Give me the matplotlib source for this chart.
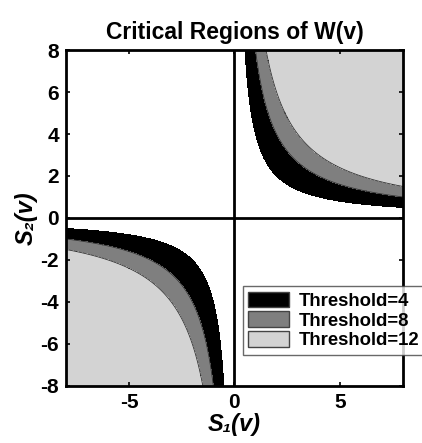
import matplotlib
matplotlib.use("Agg")
import matplotlib.pyplot as plt
import numpy as np
from matplotlib.patches import Patch

plt.rcParams["font.family"] = ["Liberation Sans", "DejaVu Sans"]
plt.rcParams["font.weight"] = "bold"
plt.rcParams["axes.unicode_minus"] = False

# thresholds on W(v) = S1(v) * S2(v)
THRESHOLDS = [4, 8, 12]
COLORS = ["#000000", "#7f7f7f", "#d3d3d3"]
LABELS = ["Threshold=4", "Threshold=8", "Threshold=12"]
S_RANGE = [-8, 8]
X_TICKS = [-5, 0, 5]
Y_TICKS = [-8, -6, -4, -2, 0, 2, 4, 6, 8]

s1 = np.linspace(S_RANGE[0], S_RANGE[1], 1601)
s2 = np.linspace(S_RANGE[0], S_RANGE[1], 1601)
S1, S2 = np.meshgrid(s1, s2)
W = S1 * S2

fig = plt.figure(figsize=(4.22, 4.43), dpi=100)
ax = fig.add_axes([0.156, 0.129, 0.799, 0.758])

levels = THRESHOLDS + [1e9]
ax.contourf(S1, S2, W, levels=levels, colors=COLORS)
ax.contour(S1, S2, W, levels=THRESHOLDS[1:], colors="#333333", linewidths=0.6)

ax.axvline(0, color="black", lw=2)
ax.axhline(0, color="black", lw=2)

ax.set_xlim(S_RANGE)
ax.set_ylim(S_RANGE)
ax.set_xticks(X_TICKS)
ax.set_yticks(Y_TICKS)
ax.tick_params(direction="in", length=3, width=1.2, top=True, right=True, labelsize=15, pad=5)
for lab in ax.get_xticklabels() + ax.get_yticklabels():
    lab.set_fontweight("bold")
for sp in ax.spines.values():
    sp.set_linewidth(2)

ax.set_title("Critical Regions of W(v)", fontsize=16.5, fontweight="bold", pad=8)
ax.set_xlabel("S\u2081(v)", fontsize=17, fontweight="bold", style="italic", labelpad=1)
ax.set_ylabel("S\u2082(v)", fontsize=17, fontweight="bold", style="italic", labelpad=2)

handles = [Patch(facecolor=c, edgecolor="#444444", label=l) for c, l in zip(COLORS, LABELS)]
leg = ax.legend(handles=handles, loc="lower left", bbox_to_anchor=(0.525, 0.092), fontsize=13.3,
                frameon=True, fancybox=False, borderpad=0.3, handlelength=2.2, handleheight=0.9,
                handletextpad=0.5, labelspacing=0.1, borderaxespad=0)
leg.get_frame().set_edgecolor("#444444")
leg.get_frame().set_linewidth(1.0)
for t in leg.get_texts():
    t.set_fontweight("bold")

fig.savefig("out.png", dpi=100)
